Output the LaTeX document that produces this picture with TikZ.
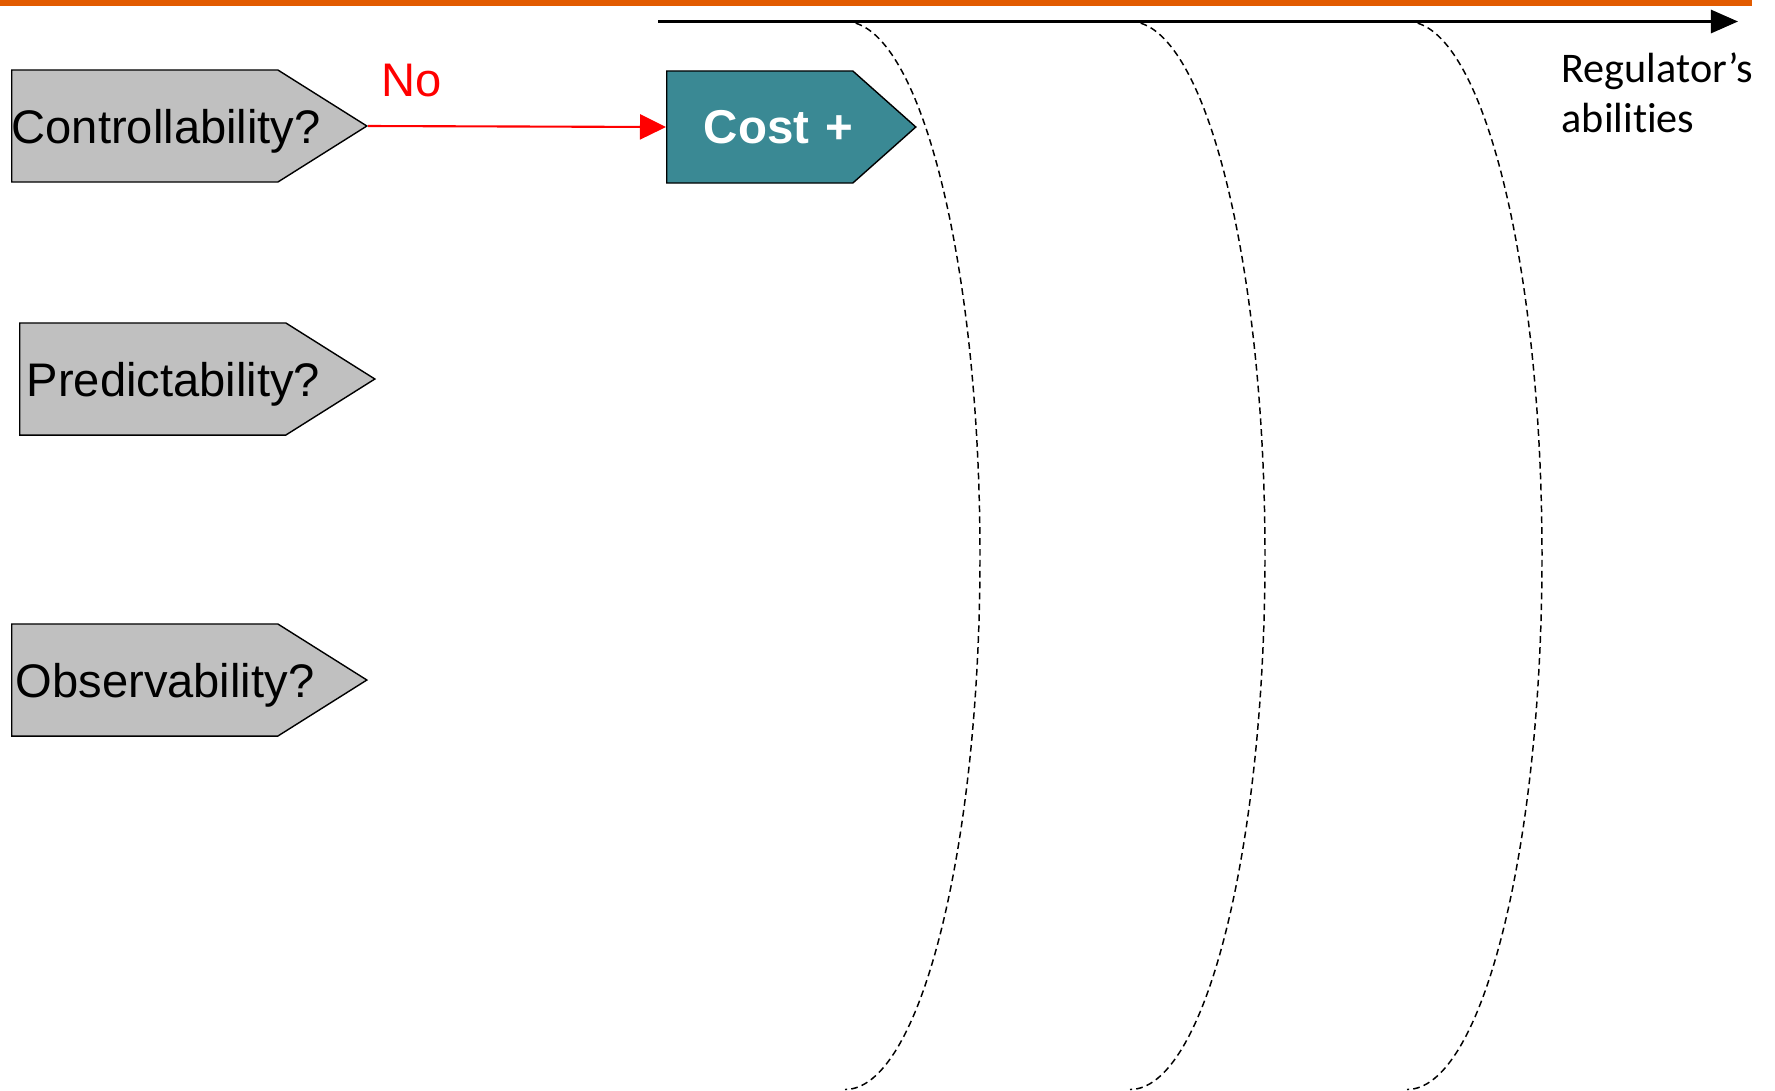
\documentclass[tikz,border=0pt]{standalone}
\usepackage{fontspec}
\setmainfont{Liberation Sans}
\newfontfamily\calibrifont[Ligatures=NoCommon]{Carlito}
\usetikzlibrary{shapes.symbols,arrows.meta,positioning}
\definecolor{qgray}{HTML}{C0C0C0}
\definecolor{costteal}{HTML}{3A8994}
\definecolor{barorange}{HTML}{E25B00}
\begin{document}
\begin{tikzpicture}[x=0.01cm,y=-0.01cm,
  question/.style={signal,signal to=east,draw=black,fill=qgray,line width=0.4pt,
    minimum height=1.12cm,text width=2.66cm,inner xsep=0pt,inner ysep=0pt,
    text depth=0pt,align=left,signal pointer angle=64.4,
    font=\fontsize{13.4}{16}\selectfont},
  mechanism/.style={signal,signal to=east,draw=black,fill=costteal,line width=0.4pt,
    minimum height=1.12cm,text width=1.86cm,inner xsep=0pt,inner ysep=0pt,
    align=right,signal pointer angle=83.3,text=white,
    font=\fontsize{13.5}{16}\selectfont\bfseries},
  boundary/.style={dash pattern=on 1.9pt off 1.2pt,line width=0.42pt},
  axisline/.style={-{Triangle[length=0.27cm,width=0.23cm]},line width=0.8pt}]
\useasboundingbox (0,0) rectangle (1775,1090);
\fill[barorange] (0,0) rectangle (1752,6);

% regulator's abilities axis
\coordinate (axisstart) at (658,21.5);
\coordinate (axisend) at (1738,21.5);
\draw[axisline] (axisstart) -- (axisend);
\node[anchor=north west,inner sep=0pt,align=left,
  font=\calibrifont\fontsize{12}{14}\selectfont] (ability) at (1561,52.5)
  {Regulator’s\\abilities};

% dashed boundaries
\foreach \xa in {845,1130,1407}
  \draw[boundary] (\xa,21.5) arc[start angle=-90,end angle=90,x radius=135,y radius=534];

% questions
\node[question,anchor=west] (ctrl) at (11,126) {\mbox{Controllability?}};
\node[question,anchor=west] (pred) at (19,379) {\mbox{\hspace*{0.07cm}Predictability?}};
\node[question,anchor=west] (obs) at (11,680) {\mbox{\hspace*{0.04cm}Observability?}};

% cost plus
\node[mechanism,anchor=west] (cost) at (666,127) {Cost +};

\draw[red,line width=0.6pt,-{Triangle[length=0.26cm,width=0.25cm]}] (ctrl.east) -- (cost.west)
  node[pos=0.04,anchor=base west,inner sep=0pt,yshift=0.3cm,
    font=\fontsize{13.4}{16}\selectfont] (no) {No};
\end{tikzpicture}
\end{document}
